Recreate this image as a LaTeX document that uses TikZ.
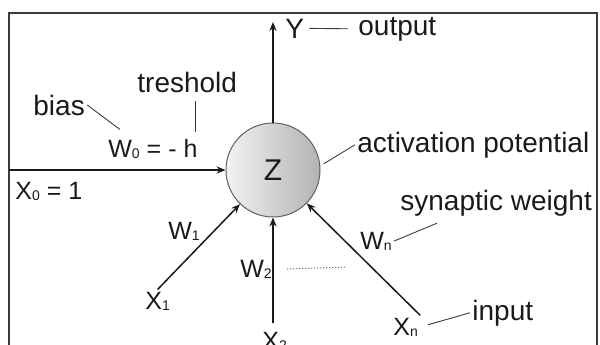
\documentclass[tikz,border=0pt]{standalone}
\usepackage{fontspec}
\setmainfont{Liberation Sans}
\usepackage{xcolor}
\definecolor{ink}{HTML}{1A1A1A}
\definecolor{frame}{HTML}{3C3C3C}
\usepackage{tikz}
\usetikzlibrary{arrows.meta, positioning}
\newcommand{\lowsub}[1]{\raisebox{-0.6pt}{\fontsize{7}{7}\selectfont #1}}
\tikzset{
  >={Stealth[length=4.5pt, width=3.6pt]},
  word/.style={font=\fontsize{14}{16}\selectfont, text=ink, inner sep=1pt, anchor=base west},
  var/.style={font=\fontsize{12.5}{15}\selectfont, text=ink, inner sep=1pt, anchor=base west},
  flow/.style={->, line width=0.75pt, color=ink},
  lead/.style={line width=0.45pt, color=ink!85},
}

\begin{document}
\begin{tikzpicture}[x=0.5pt, y=0.5pt,
    neuron/.style={circle, draw=ink!70, line width=0.5pt, minimum size=47pt, inner sep=0pt,
      left color=black!5, right color=black!30, text=ink, font=\fontsize{15}{16}\selectfont},
    ellip/.style={line width=0.5pt, color=ink!60, dash pattern=on 0.6pt off 0.9pt}]
  \useasboundingbox (0,0) rectangle (600,344);
  \draw[frame, line width=1pt] (9,-10) -- (9,331) -- (597,331) -- (597,-10);

  \node[neuron] (z) at (273,174) {Z};

  \node[word] (thr) at (135,252) {treshold};
  \node[word] (bias) at (31,229) {bias};
  \node[var] (w0) at (106,187) {W\lowsub{0} = - h};
  \node[var] (x0) at (13,145) {X\lowsub{0} = 1};
  \node[var, font=\fontsize{14}{16}\selectfont] (yy) at (283,306) {Y};
  \node[word] (out) at (356,309) {output};
  \node[word] (act) at (355,192) {activation potential};
  \node[word] (syn) at (398,134) {synaptic weight};
  \node[word] (inp) at (470,24) {input};

  \node[var] (w1) at (166,105) {W\lowsub{1}};
  \node[var] (w2) at (238,67) {W\lowsub{2}};
  \node[var] (wn) at (358,95) {W\lowsub{n}};
  \node[var] (x1) at (143,35) {X\lowsub{1}};
  \node[var] (x2) at (260,-5) {X\lowsub{2}};
  \node[var] (xn) at (391,9) {X\lowsub{n}};

  \coordinate (ytip) at (273,322);
  \coordinate (edge) at (9,174);
  \coordinate (more) at (347,77);

  \draw[flow] (z) -- (ytip);
  \draw[flow] (edge) -- (z);
  \draw[flow] (x1.north) -- (z);
  \draw[flow, shorten <=3pt] (x2.north -| z) -- (z.south);
  \draw[flow] (xn.north east) -- (z);

  \draw[lead, shorten <=1.5pt, shorten >=4pt] (yy.east) -- (out.west);
  \draw[lead] (bias.east) -- ([shift={(14,7)}]w0.north west);
  \draw[lead, shorten <=3pt, shorten >=2pt] ([xshift=4pt]thr.south) -- ([xshift=4pt]thr.south |- w0.north);
  \draw[lead, shorten >=2pt] (act.west) -- (z.5);
  \draw[lead] (wn.east) -- ([shift={(39,-5)}]syn.south west);
  \draw[lead, shorten <=4pt] (xn.east) -- (inp.west);
  \draw[ellip] ([xshift=6.5pt]w2.east) -- (more);
\end{tikzpicture}
\end{document}
